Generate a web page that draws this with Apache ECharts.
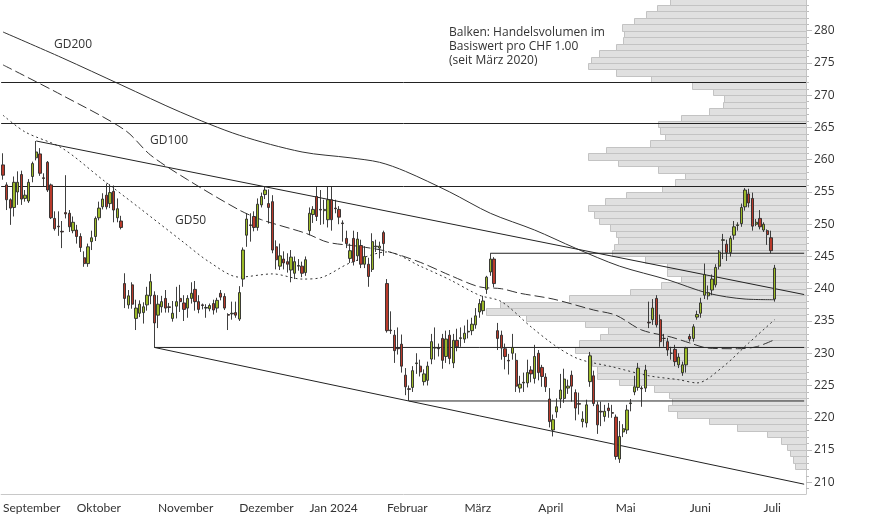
<!DOCTYPE html>
<html><head><meta charset="utf-8">
<script src="https://cdn.jsdelivr.net/npm/echarts@6/dist/echarts.min.js"></script>
<style>html,body{margin:0;padding:0;background:#fff}#c{width:874px;height:515px}</style>
</head><body><div id="c"></div>
<script>
const monthNames = ['September','Oktober','November','Dezember','Jan 2024','Februar','März','April','Mai','Juni','Juli'];
const monthStarts = [0,20,42,64,83,104,125,145,166,186,206];
const slotCount = 218;

// candles per month: [open, high, low, close]
const sep = [
[259.2,261.0,256.9,257.6],[256.1,256.5,252.2,253.8],[253.8,254.0,249.9,252.5],[252.6,257.4,251.2,256.5],
[255.0,258.2,253.0,256.5],[257.7,258.3,253.0,253.9],[254.0,255.3,253.5,254.5],[253.6,257.0,253.3,256.5],
[257.4,259.7,256.5,259.4],[260.3,262.9,259.9,261.2],[260.9,261.8,257.5,257.9],[257.2,257.9,255.9,257.1],
[259.6,259.8,255.0,255.3],[256.1,256.3,250.8,251.0],[250.9,252.0,249.0,249.3],[249.7,252.0,248.2,249.6],
[248.9,250.5,246.3,248.8],[251.8,257.6,250.9,251.6],[251.7,252.2,248.8,249.6],[249.0,251.2,248.6,250.3]];
const oct = [
[249.1,249.9,247.0,248.1],[248.1,248.6,245.7,246.4],[244.8,245.8,243.4,243.9],[243.9,247.0,243.4,246.5],
[247.3,249.0,246.0,247.9],[248.1,251.2,247.4,250.9],[251.0,253.5,250.6,252.5],[252.7,254.8,252.3,253.9],
[254.5,256.3,252.3,252.7],[253.2,256.2,252.5,254.9],[255.1,256.0,250.3,252.2],[251.0,254.0,250.3,252.4],
[250.5,251.3,249.2,249.5],[240.8,242.4,237.0,238.5],[237.5,239.8,236.9,238.9],[240.6,241.0,236.9,237.6],
[235.4,238.3,233.6,237.0],[236.2,238.2,235.6,237.6],[236.3,237.9,234.6,237.2],[237.5,240.3,236.6,239.0],
[238.9,242.3,237.6,241.1],[239.0,239.6,230.9,234.7]];
const nov = [
[235.9,239.0,233.9,237.6],[237.2,238.9,236.3,238.0],[238.5,239.8,236.3,237.0],[237.2,237.8,236.3,237.1],
[235.4,238.1,234.9,236.2],[237.3,240.3,235.4,238.0],[238.5,240.6,236.4,238.0],[237.8,239.0,235.0,236.8],
[237.0,239.0,235.5,238.5],[238.5,241.0,237.7,239.3],[239.9,241.2,236.6,238.0],[238.0,239.0,236.2,236.8],
[237.5,237.7,236.8,237.4],[237.0,237.6,235.5,237.1],[236.9,237.7,236.5,237.4],[237.7,238.3,236.0,236.7],
[237.0,238.6,236.3,238.2],[239.3,239.8,238.2,238.7],[238.8,239.3,236.7,237.0],[236.0,236.2,233.6,235.9],
[236.1,238.0,235.2,236.2],[236.3,238.0,235.5,235.9]];
const dec = [
[235.3,240.4,235.0,239.4],[241.5,246.4,240.3,246.0],[248.3,251.7,246.5,250.8],[249.9,251.7,247.3,249.8],
[251.2,252.0,248.9,249.5],[249.5,254.0,249.0,253.1],[253.0,254.9,252.6,254.3],[254.6,255.9,253.9,255.3],
[253.2,255.4,250.1,252.6],[253.5,254.5,245.5,246.0],[246.5,247.5,243.0,244.5],[243.5,247.0,242.9,245.1],
[244.6,245.8,243.0,244.0],[244.2,245.5,242.5,243.8],[242.9,246.0,241.0,244.9],[242.4,245.0,241.5,244.2],
[243.5,244.6,242.8,243.6],[243.5,244.2,241.8,242.4],[242.5,245.0,242.0,244.5]];
const jan = [
[249.0,252.6,248.3,251.7],[251.5,252.8,250.2,252.3],[254.3,255.8,250.5,251.2],[252.3,255.3,249.9,252.2],
[252.1,253.8,250.0,252.3],[250.7,255.8,249.5,253.8],[253.8,255.8,249.0,250.7],[252.5,253.8,251.7,252.4],
[252.3,252.8,250.0,251.1],[250.2,250.6,247.3,250.1],[247.8,249.0,246.3,247.0],[244.7,247.0,244.0,245.9],
[247.8,249.0,243.6,244.2],[245.1,248.8,244.3,247.7],[246.7,247.6,243.2,243.8],[243.8,246.6,243.2,245.0],
[243.8,244.8,240.3,241.9],[243.0,248.6,242.6,247.3],[246.5,247.6,245.7,246.6],[246.3,247.3,244.7,246.6],
[248.7,249.0,245.1,247.0]];
const feb = [
[240.8,241.5,233.2,233.5],[233.6,236.5,233.0,233.5],[232.8,233.6,228.5,230.4],[230.8,234.0,229.8,230.7],
[231.4,232.9,227.0,228.0],[226.6,227.7,223.5,224.8],[224.5,225.0,222.6,224.4],[224.7,228.0,224.0,227.3],
[228.4,230.0,226.8,228.5],[228.0,229.0,226.4,227.1],[225.6,227.5,225.0,226.8],[225.8,228.7,225.0,228.0],
[229.1,233.0,228.3,231.8],[230.8,234.0,229.0,230.9],[230.8,231.5,229.5,230.7],[232.3,233.0,227.6,228.9],
[229.5,233.5,228.5,232.2],[232.8,233.6,228.3,229.2],[228.5,233.0,227.7,232.0],[232.0,233.8,230.3,231.0],
[232.3,234.0,231.0,232.4]];
const mar = [
[232.2,234.3,231.6,233.1],[233.3,235.2,232.3,233.4],[233.5,235.5,232.8,234.5],[234.4,237.0,233.8,235.8],
[236.4,238.4,235.5,237.7],[236.6,238.9,236.0,238.1],[239.9,242.0,239.2,241.8],[242.6,245.5,242.0,244.6],
[244.6,244.9,240.2,240.8],[233.5,234.7,230.5,232.3],[232.8,233.5,229.0,230.8],[230.7,231.5,227.5,229.5],
[228.9,229.9,226.7,228.8],[230.0,233.0,229.0,230.9],[228.9,230.0,224.0,224.9],[224.6,226.5,223.9,225.2],
[225.4,227.0,224.0,225.5],[225.4,229.0,224.7,227.0],[227.4,228.0,225.5,226.8],[226.1,231.3,225.3,229.5]];
const apr = [
[230.0,230.5,225.8,227.0],[227.8,228.2,224.8,226.4],[226.3,226.9,224.0,224.8],[222.9,224.6,218.5,219.4],
[218.1,220.5,217.1,219.7],[220.9,223.0,220.0,221.7],[222.9,226.8,221.5,224.3],[223.0,227.6,222.3,226.0],
[224.6,225.9,223.7,224.9],[226.6,227.3,222.5,224.9],[223.9,224.4,219.6,221.5],[222.2,223.9,220.5,222.1],
[219.4,221.0,218.5,219.8],[219.2,222.8,218.5,222.0],[225.6,230.2,224.8,229.6],[226.5,227.3,221.8,222.2],
[222.0,222.5,217.5,218.9],[221.0,222.5,218.7,220.9],[220.2,222.0,219.4,221.0],[221.5,222.3,220.0,221.1],
[220.8,222.0,220.0,220.7]];
const may = [
[220.1,220.5,213.5,214.0],[213.6,219.5,213.0,217.1],[217.8,219.0,217.0,218.3],[218.1,222.0,217.5,221.2],
[222.2,222.9,221.0,222.3],[224.0,226.5,223.5,224.8],[224.7,228.5,224.2,227.7],[224.6,224.9,221.7,224.5],
[224.6,228.2,224.0,227.4],[234.8,238.0,233.9,234.7],[235.2,238.4,234.4,237.0],[238.5,239.0,234.0,234.4],
[235.2,236.0,231.0,231.8],[232.3,233.0,231.0,232.3],[231.8,232.4,229.6,230.5],[230.0,231.0,229.0,230.0],
[230.6,231.3,228.0,228.7],[228.2,230.0,227.7,229.4],[227.0,228.7,226.5,228.2],[228.2,231.0,227.0,230.8]];
const jun = [
[232.6,233.0,231.8,232.2],[232.3,234.5,231.8,234.1],[235.6,236.6,235.2,236.0],[236.2,238.6,235.5,237.8],
[239.0,243.9,238.4,242.2],[238.9,240.5,238.3,239.4],[239.8,242.2,239.0,241.5],[240.6,243.8,240.2,243.3],
[243.5,246.0,243.0,245.7],[247.5,248.5,244.6,247.6],[246.9,247.6,244.3,245.6],[245.6,248.2,245.0,247.8],
[248.3,250.5,247.6,249.6],[249.8,250.3,249.0,249.9],[250.1,253.2,249.6,252.6],[252.7,255.6,252.1,255.3],
[254.7,255.5,252.6,253.3],[254.0,254.9,249.0,249.7],[250.0,250.8,249.7,250.3],[250.9,252.2,249.2,249.6]];
const jul = [
[249.1,250.3,248.8,250.0],[249.0,249.2,246.8,248.4],[247.9,249.0,245.5,245.9],[238.4,243.7,238.0,243.2]];

// volume profile: price level (lower bound of 1.00 CHF bin) and traded volume (relative)
const volLevels = [212,213,214,215,216,217,218,219,220,221,222,223,224,225,226,227,228,229,230,231,232,233,234,235,236,237,238,239,240,241,242,243,244,245,246,247,248,249,250,251,252,253,254,255,256,257,258,259,260,261,262,263,264,265,266,267,268,269,270,271,272,273,274,275,276,277,278,279,280,281,282,283,284];
const volAmounts = [10.7,12.7,16,18.7,24.7,39.3,69.3,96.7,129.3,137.7,134.3,136.7,152.7,187.7,209.3,209.3,214.3,216.7,231,227.7,206,198.7,221,280,320,306,237,176,145,125,139,139,161,194.3,192.7,188.7,190.3,196.7,207.7,212.7,218.7,201.7,180,144.7,130.7,120.7,148.7,188.7,218.7,200,156.7,141.7,146,148.7,124.7,96.7,82.7,82,92.7,113.7,155.7,190.3,218.7,215.3,207.7,190.3,183.7,182.7,184.3,172.7,160.7,149.3,136];
const volAxisMax = 806;

// moving averages: [candle index, value]
const gd200 = [[0,279.8],[16,275.8],[32,271.6],[48,267.4],[64,263.8],[81,261.2],[94,260.3],[102,259.6],[109,258.2],[121,255.0],[132,251.7],[144,249.1],[155,246.3],[167,243.5],[180,241.4],[191,239.3],[201,238.4],[209,238.3]];
const gd100 = [[0,274.7],[16,270.0],[33,264.6],[40,260.7],[50,256.9],[64,252.2],[70,250.7],[82,248.6],[88,247.2],[96,246.6],[104,245.8],[113,244.1],[121,242.1],[129,240.3],[135,240.0],[140,239.3],[149,238.4],[160,236.7],[166,235.9],[173,233.6],[181,232.5],[186,231.6],[191,230.8],[199,230.7],[204,231.0],[209,232.1]];
const gd50 = [[0,266.9],[6,264.3],[16,261.8],[27,256.9],[37,252.5],[48,247.6],[56,244.1],[64,241.8],[73,242.3],[81,241.5],[86,241.7],[94,244.0],[104,245.7],[113,243.5],[121,241.4],[129,239.0],[135,238.0],[143,234.1],[150,231.0],[156,229.1],[165,227.9],[175,226.5],[183,225.9],[188,225.4],[195,227.9],[202,231.6],[209,235.2]];

// horizontal levels
const hLevelsFull = [272.0, 265.65, 255.9];
const hLevelsFrom = [[132,245.5],[41,230.9],[110,222.6]];
const trendUpper = [[9,262.9],[217,239.1]];
const trendLower = [[41,230.9],[217,209.7]];

const yMin = 208.18, yMax = 284.76;
const yLabels = [210,215,220,225,230,235,240,245,250,255,260,265,270,275,280];
const yMinorTicks = [];
for (let v = 209; v <= 284; v++) yMinorTicks.push(v);

const candles = [].concat(sep, oct, nov, dec, jan, feb, mar, apr, may, jun, jul);
const categories = Array.from({length: slotCount}, (_, i) => String(i));
const FONT = 'Open Sans';

const chart = echarts.init(document.getElementById('c'), null, {renderer: 'canvas'});

function renderVol(params, api) {
  const lvl = api.value(0), vol = api.value(1);
  const a = api.coord([0, lvl]);
  const b = api.coord([vol, lvl + 1]);
  return {type: 'rect', shape: {x: Math.round(b[0]) + 0.5, y: Math.round(b[1]) + 0.5, width: Math.round(a[0]) - Math.round(b[0]), height: Math.round(a[1]) - Math.round(b[1])},
    style: {fill: '#e0e0e0', stroke: '#c3c3c3', lineWidth: 1}};
}

const lineBase = {type: 'line', symbol: 'none', silent: true, xAxisIndex: 0, yAxisIndex: 0, z: 4};
const series = [
  {type: 'custom', name: 'vol', xAxisIndex: 1, yAxisIndex: 0, renderItem: renderVol, clip: true, silent: true,
   encode: {x: 1, y: 0}, data: volLevels.map((l, i) => [l, volAmounts[i]]), z: 1},
  Object.assign({}, lineBase, {data: gd200, smooth: 0.3, lineStyle: {color: '#333', width: 1}}),
  Object.assign({}, lineBase, {data: gd100, smooth: 0.3, lineStyle: {color: '#333', width: 1, type: [10, 4]}}),
  Object.assign({}, lineBase, {data: gd50, smooth: 0.3, lineStyle: {color: '#333', width: 1, type: [2, 3]}}),
  Object.assign({}, lineBase, {data: trendUpper, lineStyle: {color: '#222', width: 1}}),
  Object.assign({}, lineBase, {data: trendLower, lineStyle: {color: '#222', width: 1}}),
];
hLevelsFrom.forEach(([i, v]) => {
  series.push(Object.assign({}, lineBase, {data: [[i, v], [slotCount - 1, v]], lineStyle: {color: '#222', width: 1}}));
});
series.push({
  type: 'candlestick', xAxisIndex: 0, yAxisIndex: 0, z: 6, barWidth: 2.8, silent: true,
  data: candles.map(r => [r[0], r[3], r[2], r[1]]),
  itemStyle: {color: '#9cba28', color0: '#b93a2b', borderColor: '#2a2a2a', borderColor0: '#2a2a2a', borderWidth: 0.9},
  markLine: {silent: true, symbol: 'none', label: {show: false}, animation: false,
    lineStyle: {color: '#222', width: 1, type: 'solid'}, data: hLevelsFull.map(v => ({yAxis: v}))}
});

const txt = (x, y, s) => ({type: 'text', left: x, top: y, silent: true, z: 20,
  style: {text: s, fill: '#333', font: '12px ' + FONT}});

chart.setOption({
  animation: false,
  grid: {left: 0, right: 68, top: 0, bottom: 21},
  xAxis: [
    {type: 'category', data: categories, boundaryGap: true,
     axisLine: {lineStyle: {color: '#c8c8c8'}},
     axisTick: {interval: (i) => monthStarts.includes(i), length: 20, lineStyle: {color: '#c8c8c8'}},
     axisLabel: {interval: (i) => monthStarts.includes(i), align: 'left', margin: 8, color: '#333', fontSize: 12, fontFamily: 'Lato',
       formatter: (v) => { const k = monthStarts.indexOf(Number(v)); return k >= 0 ? monthNames[k] : ''; }},
     splitLine: {show: false}},
    {type: 'value', show: false, min: 0, max: volAxisMax, inverse: true}
  ],
  yAxis: [
    {type: 'value', position: 'right', min: yMin, max: yMax, scale: true,
     axisLine: {show: true, lineStyle: {color: '#c8c8c8'}},
     axisTick: {show: true, length: 3, customValues: yMinorTicks, lineStyle: {color: '#bbb'}},
     axisLabel: {show: false}, splitLine: {show: false}},
    {type: 'value', position: 'right', min: yMin, max: yMax, scale: true,
     axisLine: {show: false},
     axisTick: {show: true, length: 6, customValues: yLabels, lineStyle: {color: '#bbb'}},
     axisLabel: {show: true, customValues: yLabels, margin: 8, color: '#333', fontSize: 12, fontFamily: FONT},
     splitLine: {show: false}}
  ],
  graphic: [
    txt(54, 39, 'GD200'),
    txt(150, 135, 'GD100'),
    txt(175, 215, 'GD50'),
    txt(449, 27, 'Balken: Handelsvolumen im'),
    txt(449, 41, 'Basiswert pro CHF 1.00'),
    txt(449, 55, '(seit März 2020)')
  ],
  series: series
});
</script></body></html>
